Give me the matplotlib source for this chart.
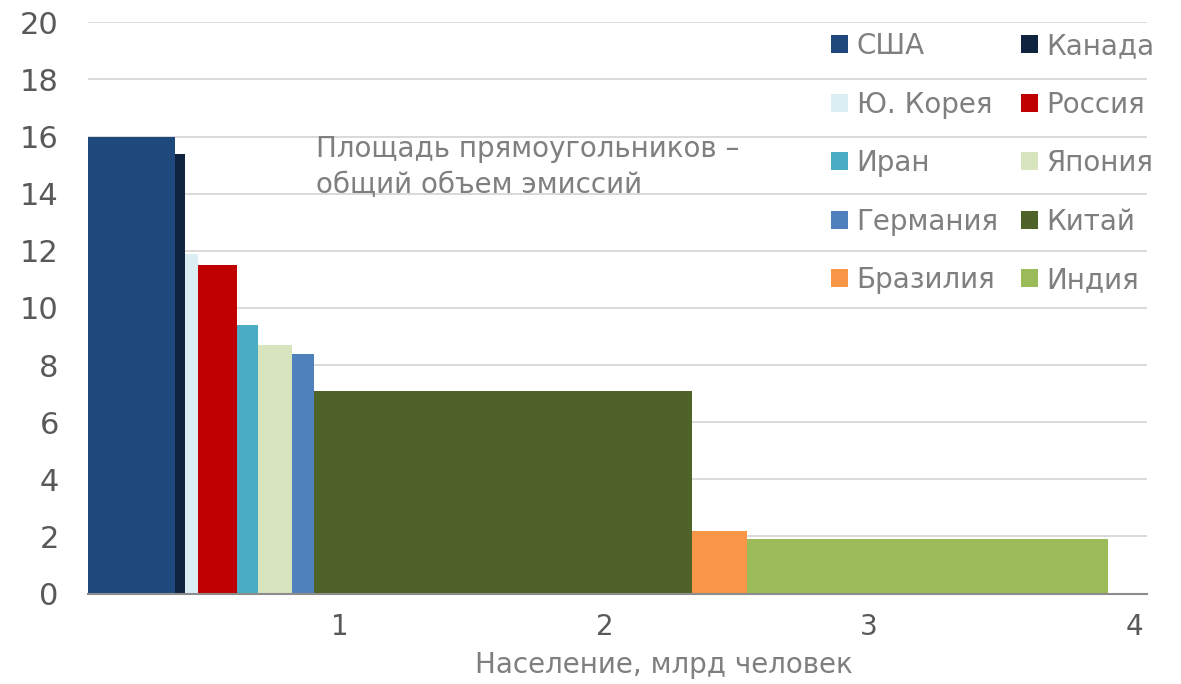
import matplotlib
matplotlib.use('Agg')
import matplotlib.pyplot as plt
import matplotlib.transforms as mtransforms
import numpy as np

# Per-capita emissions vs population (variable-width bars)
countries = ['США', 'Канада', 'Ю. Корея', 'Россия', 'Иран',
             'Япония', 'Германия', 'Китай', 'Бразилия', 'Индия']
population = [0.327, 0.038, 0.052, 0.145, 0.082,
              0.128, 0.082, 1.426, 0.210, 1.361]   # млрд человек
per_capita = [16.0, 15.4, 11.9, 11.5, 9.4,
              8.7, 8.4, 7.1, 2.2, 1.9]
colors = ['#1f497d', '#10243f', '#dbeef4', '#c00000', '#4bacc6',
          '#d7e4bd', '#4f81bd', '#4f6228', '#f79646', '#9bbb59']
xticks = [1, 2, 3, 4]
yticks = list(range(0, 21, 2))

plt.rcParams['font.family'] = ['DejaVu Sans']

fig = plt.figure(figsize=(11.81, 6.84), dpi=100)
W, H = 1181, 684
ax = fig.add_axes([88 / W, 1 - 593.5 / H, (1147 - 88) / W, (593.5 - 22.3) / H])

lefts = np.concatenate([[0], np.cumsum(population)[:-1]])
bars = ax.bar(lefts, per_capita, width=population, align='edge',
              color=colors, edgecolor='none', zorder=3)

ax.set_xlim(0, 4)
ax.set_ylim(0, 20)
ax.set_xticks(xticks)
ax.set_yticks(yticks)
ax.grid(axis='y', color='#d9d9d9', linewidth=1.4, zorder=0)
ax.set_axisbelow(True)
for side in ['top', 'right', 'left']:
    ax.spines[side].set_visible(False)
ax.spines['bottom'].set_color('#8c8c8c')
ax.spines['bottom'].set_linewidth(1.5)
ax.spines['bottom'].set_zorder(4)

ax.tick_params(axis='both', length=0, labelsize=20, labelcolor='#595959')
ax.tick_params(axis='y', pad=21, labelsize=22)
ax.tick_params(axis='x', pad=14)
shift = mtransforms.ScaledTranslation(-13 / 100, 0, fig.dpi_scale_trans)
for lbl in ax.get_xticklabels():
    lbl.set_transform(lbl.get_transform() + shift)

fig.text(664 / W, 1 - 665 / H, 'Население, млрд человек', ha='center',
         va='center', fontsize=20, color='#7f7f7f')

fig.text(316 / W, 1 - 167 / H, 'Площадь прямоугольников –\nобщий объем эмиссий',
         ha='left', va='center', fontsize=20, color='#7f7f7f', linespacing=1.35)

# legend filled row by row
order = [0, 2, 4, 6, 8, 1, 3, 5, 7, 9]
leg = ax.legend([bars[i] for i in order], [countries[i] for i in order],
                ncol=2, loc='upper left', bbox_to_anchor=(831 / W, 1 - 32 / H),
                bbox_transform=fig.transFigure, frameon=False, fontsize=20,
                handlelength=0.62, handleheight=0.62, handletextpad=0.3,
                labelspacing=1.1, columnspacing=0.8, borderpad=0,
                borderaxespad=0)
for t in leg.get_texts():
    t.set_color('#7f7f7f')

fig.savefig('out.png', dpi=100)
